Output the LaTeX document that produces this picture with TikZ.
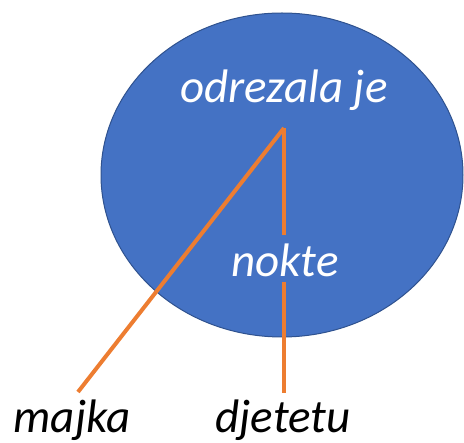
\documentclass[tikz,border=0pt]{standalone}
\usepackage{fontspec}
\setmainfont{Carlito}
\definecolor{blobfill}{HTML}{4472C4}
\definecolor{blobline}{HTML}{2F528F}
\definecolor{linkorange}{HTML}{ED7D31}
\begin{document}
\begin{tikzpicture}[x=1pt,y=-1pt,
  inlabel/.style={text=white,font=\fontsize{47}{56}\selectfont\itshape,anchor=base,inner sep=0pt},
  outlabel/.style={text=black,font=\fontsize{47}{56}\selectfont\itshape,anchor=base,inner sep=0pt},
  link/.style={draw=linkorange,line width=4pt}]
\useasboundingbox (0,0) rectangle (464,443);
\fill[blobfill,draw=blobline,line width=1pt] (282,175) ellipse [x radius=181, y radius=162];
\node[inlabel] (verb) at (284,103) {odrezala je};
\node[inlabel] (obj) at (285,277) {nokte};
\node[outlabel] (subj) at (72,433) {majka};
\node[outlabel] (ind) at (283,433) {djetetu};
\coordinate (apex) at (284,128);
\coordinate (gapTop) at (284,235);
\coordinate (gapBot) at (284,282);
\coordinate (subjEnd) at (78,392);
\coordinate (indEnd) at (284,393);
\draw[link] (apex) -- (subjEnd);
\draw[link] (apex) -- (gapTop);
\draw[link] (gapBot) -- (indEnd);
\end{tikzpicture}
\end{document}
